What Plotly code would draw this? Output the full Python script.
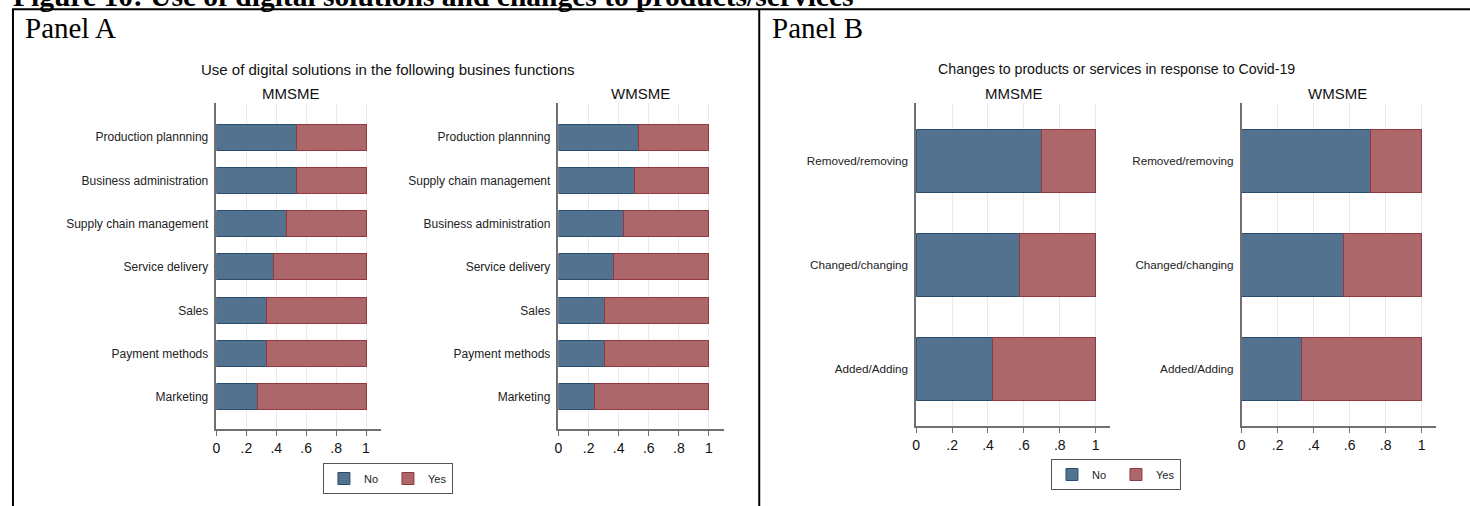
import plotly.graph_objects as go

W, H = 1470, 506

# ---- data -------------------------------------------------------------
functions_mm = ["Production plannning", "Business administration", "Supply chain management",
                "Service delivery", "Sales", "Payment methods", "Marketing"]
no_mm = [0.535, 0.535, 0.467, 0.383, 0.338, 0.338, 0.275]
yes_mm = [0.465, 0.465, 0.533, 0.617, 0.662, 0.662, 0.725]

functions_wm = ["Production plannning", "Supply chain management", "Business administration",
                "Service delivery", "Sales", "Payment methods", "Marketing"]
no_wm = [0.533, 0.507, 0.431, 0.364, 0.309, 0.309, 0.242]
yes_wm = [0.467, 0.493, 0.569, 0.636, 0.691, 0.691, 0.758]

changes = ["Removed/removing", "Changed/changing", "Added/Adding"]
no_ch_mm = [0.700, 0.573, 0.425]
yes_ch_mm = [0.300, 0.427, 0.575]
no_ch_wm = [0.715, 0.565, 0.333]
yes_ch_wm = [0.285, 0.435, 0.667]

x_ticks = [0, 0.2, 0.4, 0.6, 0.8, 1]
x_ticktext = ["0", ".2", ".4", ".6", ".8", "1"]

# ---- style ------------------------------------------------------------
BLUE, BLUE_LINE = "#52728F", "#2A4D6E"
RED, RED_LINE = "#AC676B", "#93383E"
SANS = "Arial, Liberation Sans, sans-serif"
SERIF = "Times New Roman, Liberation Serif, serif"
AXIS_COL = "#707070"


def px(x):
    return x / W


def py(y):
    return 1 - y / H


fig = go.Figure()


def add_pair(cats, no, yes, xa, ya, legend, show):
    fig.add_trace(go.Bar(y=cats, x=no, orientation="h", name="No", width=0.6,
                         marker=dict(color=BLUE, line=dict(color=BLUE_LINE, width=1)),
                         xaxis=xa, yaxis=ya, legend=legend, showlegend=show,
                         hoverinfo="x+y"))
    fig.add_trace(go.Bar(y=cats, x=yes, orientation="h", name="Yes", width=0.6,
                         marker=dict(color=RED, line=dict(color=RED_LINE, width=1)),
                         xaxis=xa, yaxis=ya, legend=legend, showlegend=show,
                         hoverinfo="x+y"))


add_pair(functions_mm, no_mm, yes_mm, "x", "y", "legend", True)
add_pair(functions_wm, no_wm, yes_wm, "x2", "y2", "legend", False)
add_pair(changes, no_ch_mm, yes_ch_mm, "x3", "y3", "legend2", True)
add_pair(changes, no_ch_wm, yes_ch_wm, "x4", "y4", "legend2", False)


def xaxis(x0, x1, rng, anchor):
    return dict(domain=[px(x0), px(x1)], range=rng, anchor=anchor,
                tickvals=x_ticks, ticktext=x_ticktext,
                showgrid=True, gridcolor="#EAEAEA", gridwidth=1,
                zeroline=False, showline=True, linecolor=AXIS_COL, linewidth=1.5,
                ticks="outside", ticklen=5, tickcolor=AXIS_COL, tickwidth=1,
                tickfont=dict(family=SANS, size=14, color="#111"), fixedrange=True)


def yaxis(y0, y1, cats, rng, anchor, size):
    return dict(domain=[py(y1), py(y0)], range=rng, anchor=anchor,
                type="category", categoryorder="array", categoryarray=cats,
                showgrid=False, zeroline=False, showline=True,
                linecolor=AXIS_COL, linewidth=1.5, ticks="",
                ticklabelstandoff=4,
                tickfont=dict(family=SANS, size=size, color="#222"), fixedrange=True)


A_TOP, A_BOT = 103, 429
B_TOP, B_BOT = 103, 426
a_rng = [6.74, -0.785]
b_rng = [2.548, -0.558]

fig.update_layout(
    xaxis=xaxis(213, 378, [0, 1.1], "y"),
    yaxis=yaxis(A_TOP, A_BOT, functions_mm, a_rng, "x", 12),
    xaxis2=xaxis(556, 722, [0, 1.1], "y2"),
    yaxis2=yaxis(A_TOP, A_BOT, functions_wm, a_rng, "x2", 12),
    xaxis3=xaxis(914.7, 1109, [0, 1.08], "y3"),
    yaxis3=yaxis(B_TOP, B_BOT, changes, b_rng, "x3", 11.7),
    xaxis4=xaxis(1241, 1436, [0, 1.08], "y4"),
    yaxis4=yaxis(B_TOP, B_BOT, changes, b_rng, "x4", 11.7),
)

legend_style = dict(orientation="h", xanchor="center", yanchor="top",
                    bgcolor="white", bordercolor="#555", borderwidth=1,
                    font=dict(family=SANS, size=11, color="#222"),
                    entrywidth=19, itemwidth=30, traceorder="normal",
                    tracegroupgap=0)
fig.update_layout(
    legend=dict(x=px(385), y=py(463), **legend_style),
    legend2=dict(x=px(1115), y=py(459), **legend_style),
)

# ---- texts ------------------------------------------------------------
ann = []


def text(x, y, s, size, family=SANS, color="#111", xanchor="center", bold=False):
    ann.append(dict(x=px(x), y=py(y), xref="paper", yref="paper", text=f"<b>{s}</b>" if bold else s,
                    showarrow=False, xanchor=xanchor, yanchor="middle",
                    font=dict(family=family, size=size, color=color)))


text(7, -4, "Figure 10: Use of digital solutions and changes to products/services", 29.5,
     family=SERIF, color="black", xanchor="left", bold=True)
text(19, 28, "Panel A", 29, family=SERIF, color="black", xanchor="left")
text(768, 28, "Panel B", 29, family=SERIF, color="black", xanchor="left")

text(385, 69, "Use of digital solutions in the following busines functions", 15)
text(1116, 69, "Changes to products or services in response to Covid-19", 14.2)
text(288, 93, "MMSME", 15)
text(638, 93, "WMSME", 15)
text(1013, 93, "MMSME", 15)
text(1337, 93, "WMSME", 15)

fig.update_layout(annotations=ann)

# ---- table frame ------------------------------------------------------
frame = [
    dict(x0=px(8), x1=px(W + 2), y0=py(9.3), y1=py(9.3)),
    dict(x0=px(9), x1=px(9), y0=py(9), y1=py(H + 2)),
    dict(x0=px(757.3), x1=px(757.3), y0=py(9), y1=py(H + 2)),
]
fig.update_layout(shapes=[dict(type="line", xref="paper", yref="paper",
                               line=dict(color="black", width=2), **f) for f in frame])

fig.update_layout(
    width=W, height=H, margin=dict(l=0, r=0, t=0, b=0),
    paper_bgcolor="white", plot_bgcolor="white",
    barmode="stack", bargap=0.4, showlegend=True,
)

fig.write_html("out.html", config={"displayModeBar": False})
